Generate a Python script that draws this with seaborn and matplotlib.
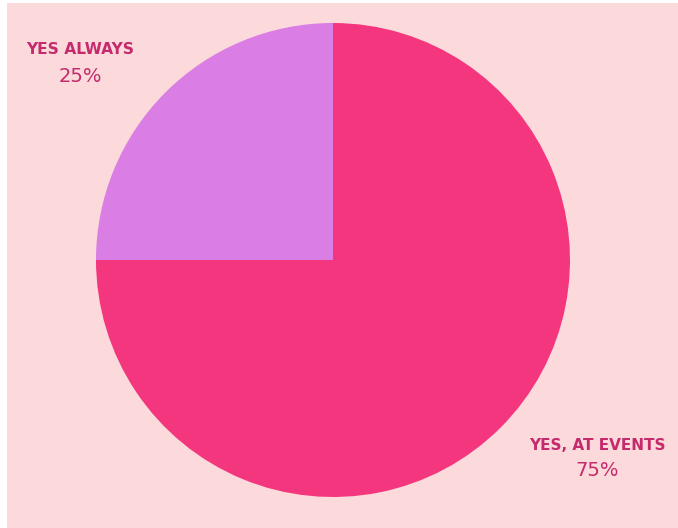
import matplotlib
matplotlib.use("Agg")
import matplotlib.pyplot as plt
import seaborn as sns
from matplotlib.patches import Rectangle

categories = ["YES ALWAYS", "YES, AT EVENTS"]
values = [25, 75]
pct_labels = ["25%", "75%"]
colors = ["#DA7DE4", "#F4367E"]

sns.set_theme(style="white")
plt.rcParams['font.family'] = ['DejaVu Sans']

W, H = 678, 528
fig = plt.figure(figsize=(W / 100, H / 100), dpi=100, facecolor="white")
fig.patches.append(Rectangle((7 / W, 0), 1, (H - 3) / H, transform=fig.transFigure,
                             facecolor="#FCD9DA", edgecolor="none", zorder=-10))

cx, cy, r = 333, 260, 237
ax = fig.add_axes([(cx - r) / W, (H - cy - r) / H, 2 * r / W, 2 * r / H])
ax.set_zorder(5)
ax.pie(values, colors=colors, startangle=90, counterclock=True,
       wedgeprops=dict(linewidth=0), radius=1.0)
ax.set_xlim(-1, 1)
ax.set_ylim(-1, 1)
ax.set_aspect("equal")
ax.axis("off")
ax.patch.set_alpha(0)

tc = "#C42A6C"
label_pos = [(80, 50, 76, 11.2), (597, 445, 470, 11)]
for cat, pct, (x, y1, y2, fs) in zip(categories, pct_labels, label_pos):
    fig.text(x / W, 1 - y1 / H, cat, ha="center", va="center", color=tc,
             fontsize=fs, fontweight="bold", zorder=10)
    fig.text(x / W, 1 - y2 / H, pct, ha="center", va="center", color=tc,
             fontsize=14, zorder=10)

fig.savefig("out.png", dpi=100, facecolor="white")
